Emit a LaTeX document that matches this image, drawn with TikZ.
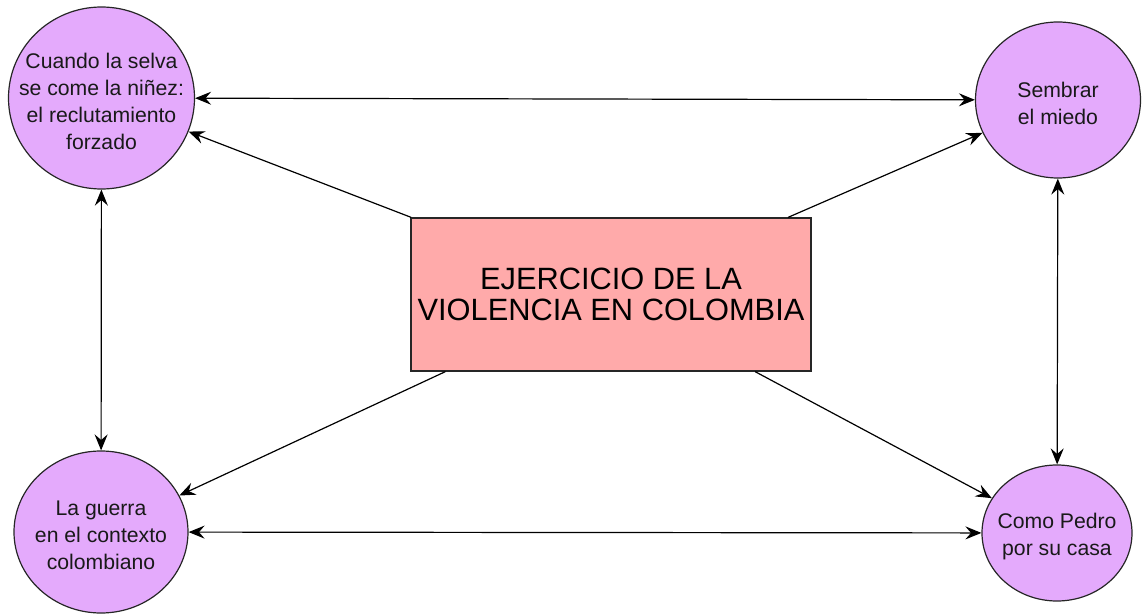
\documentclass[tikz,border=0pt]{standalone}
\usepackage{fontspec}
\setmainfont{Liberation Sans}
\usetikzlibrary{shapes, shapes.geometric, arrows.meta}

\definecolor{lila}{RGB}{228,170,252}
\definecolor{rosa}{RGB}{255,170,170}

\begin{document}
\begin{tikzpicture}[
  x=0.5pt, y=-0.5pt,
  line width=0.6pt,
  font=\fontsize{10.6}{13.4}\selectfont]

\tikzset{tema/.style={ellipse, draw=black!85, fill=lila, inner sep=0pt},
  every label/.style={align=center, text=black!90, yshift=-1.8pt},
  flecha/.style={-{Stealth[length=8pt,width=6.5pt,inset=2.8pt]}},
  doble/.style={{Stealth[length=8pt,width=6.5pt,inset=2.8pt]}-{Stealth[length=8pt,width=6.5pt,inset=2.8pt]}}}

  \useasboundingbox (0,0) rectangle (1142,615);

  \node[draw=black!85, fill=rosa, minimum width=198pt, minimum height=76.5pt,
        align=center, font=\fontsize{15.4}{16.6}\selectfont]
        (ejercicio) at (611,294.5) {\raisebox{-1pt}{EJERCICIO DE LA}\\VIOLENCIA EN COLOMBIA};

  \node[tema, minimum width=93pt, minimum height=91pt,
        label=center:{Cuando la selva\\se come la niñez:\\el reclutamiento\\forzado}]
        (selva) at (101.5,98) {};
  \node[tema, minimum width=82.5pt, minimum height=78pt,
        label=center:{Sembrar\\el miedo}] (miedo) at (1058,100) {};
  \node[tema, minimum width=87pt, minimum height=81pt,
        label=center:{La guerra\\en el contexto\\colombiano}] (guerra) at (101,532) {};
  \node[tema, minimum width=75pt, minimum height=68pt,
        label=center:{Como Pedro\\por su casa}] (pedro) at (1057,533) {};

  \draw[] (ejercicio) edge[flecha] (selva);
  \draw[] (ejercicio) edge[flecha] (miedo);
  \draw[] (ejercicio) edge[flecha] (guerra);
  \draw[] (ejercicio) edge[flecha] (pedro);

  \draw[] (selva) edge[doble] (miedo);
  \draw[] (selva) edge[doble] (guerra);
  \draw[] (miedo) edge[doble] (pedro);
  \draw[] (guerra) edge[doble] (pedro);
\end{tikzpicture}
\end{document}
